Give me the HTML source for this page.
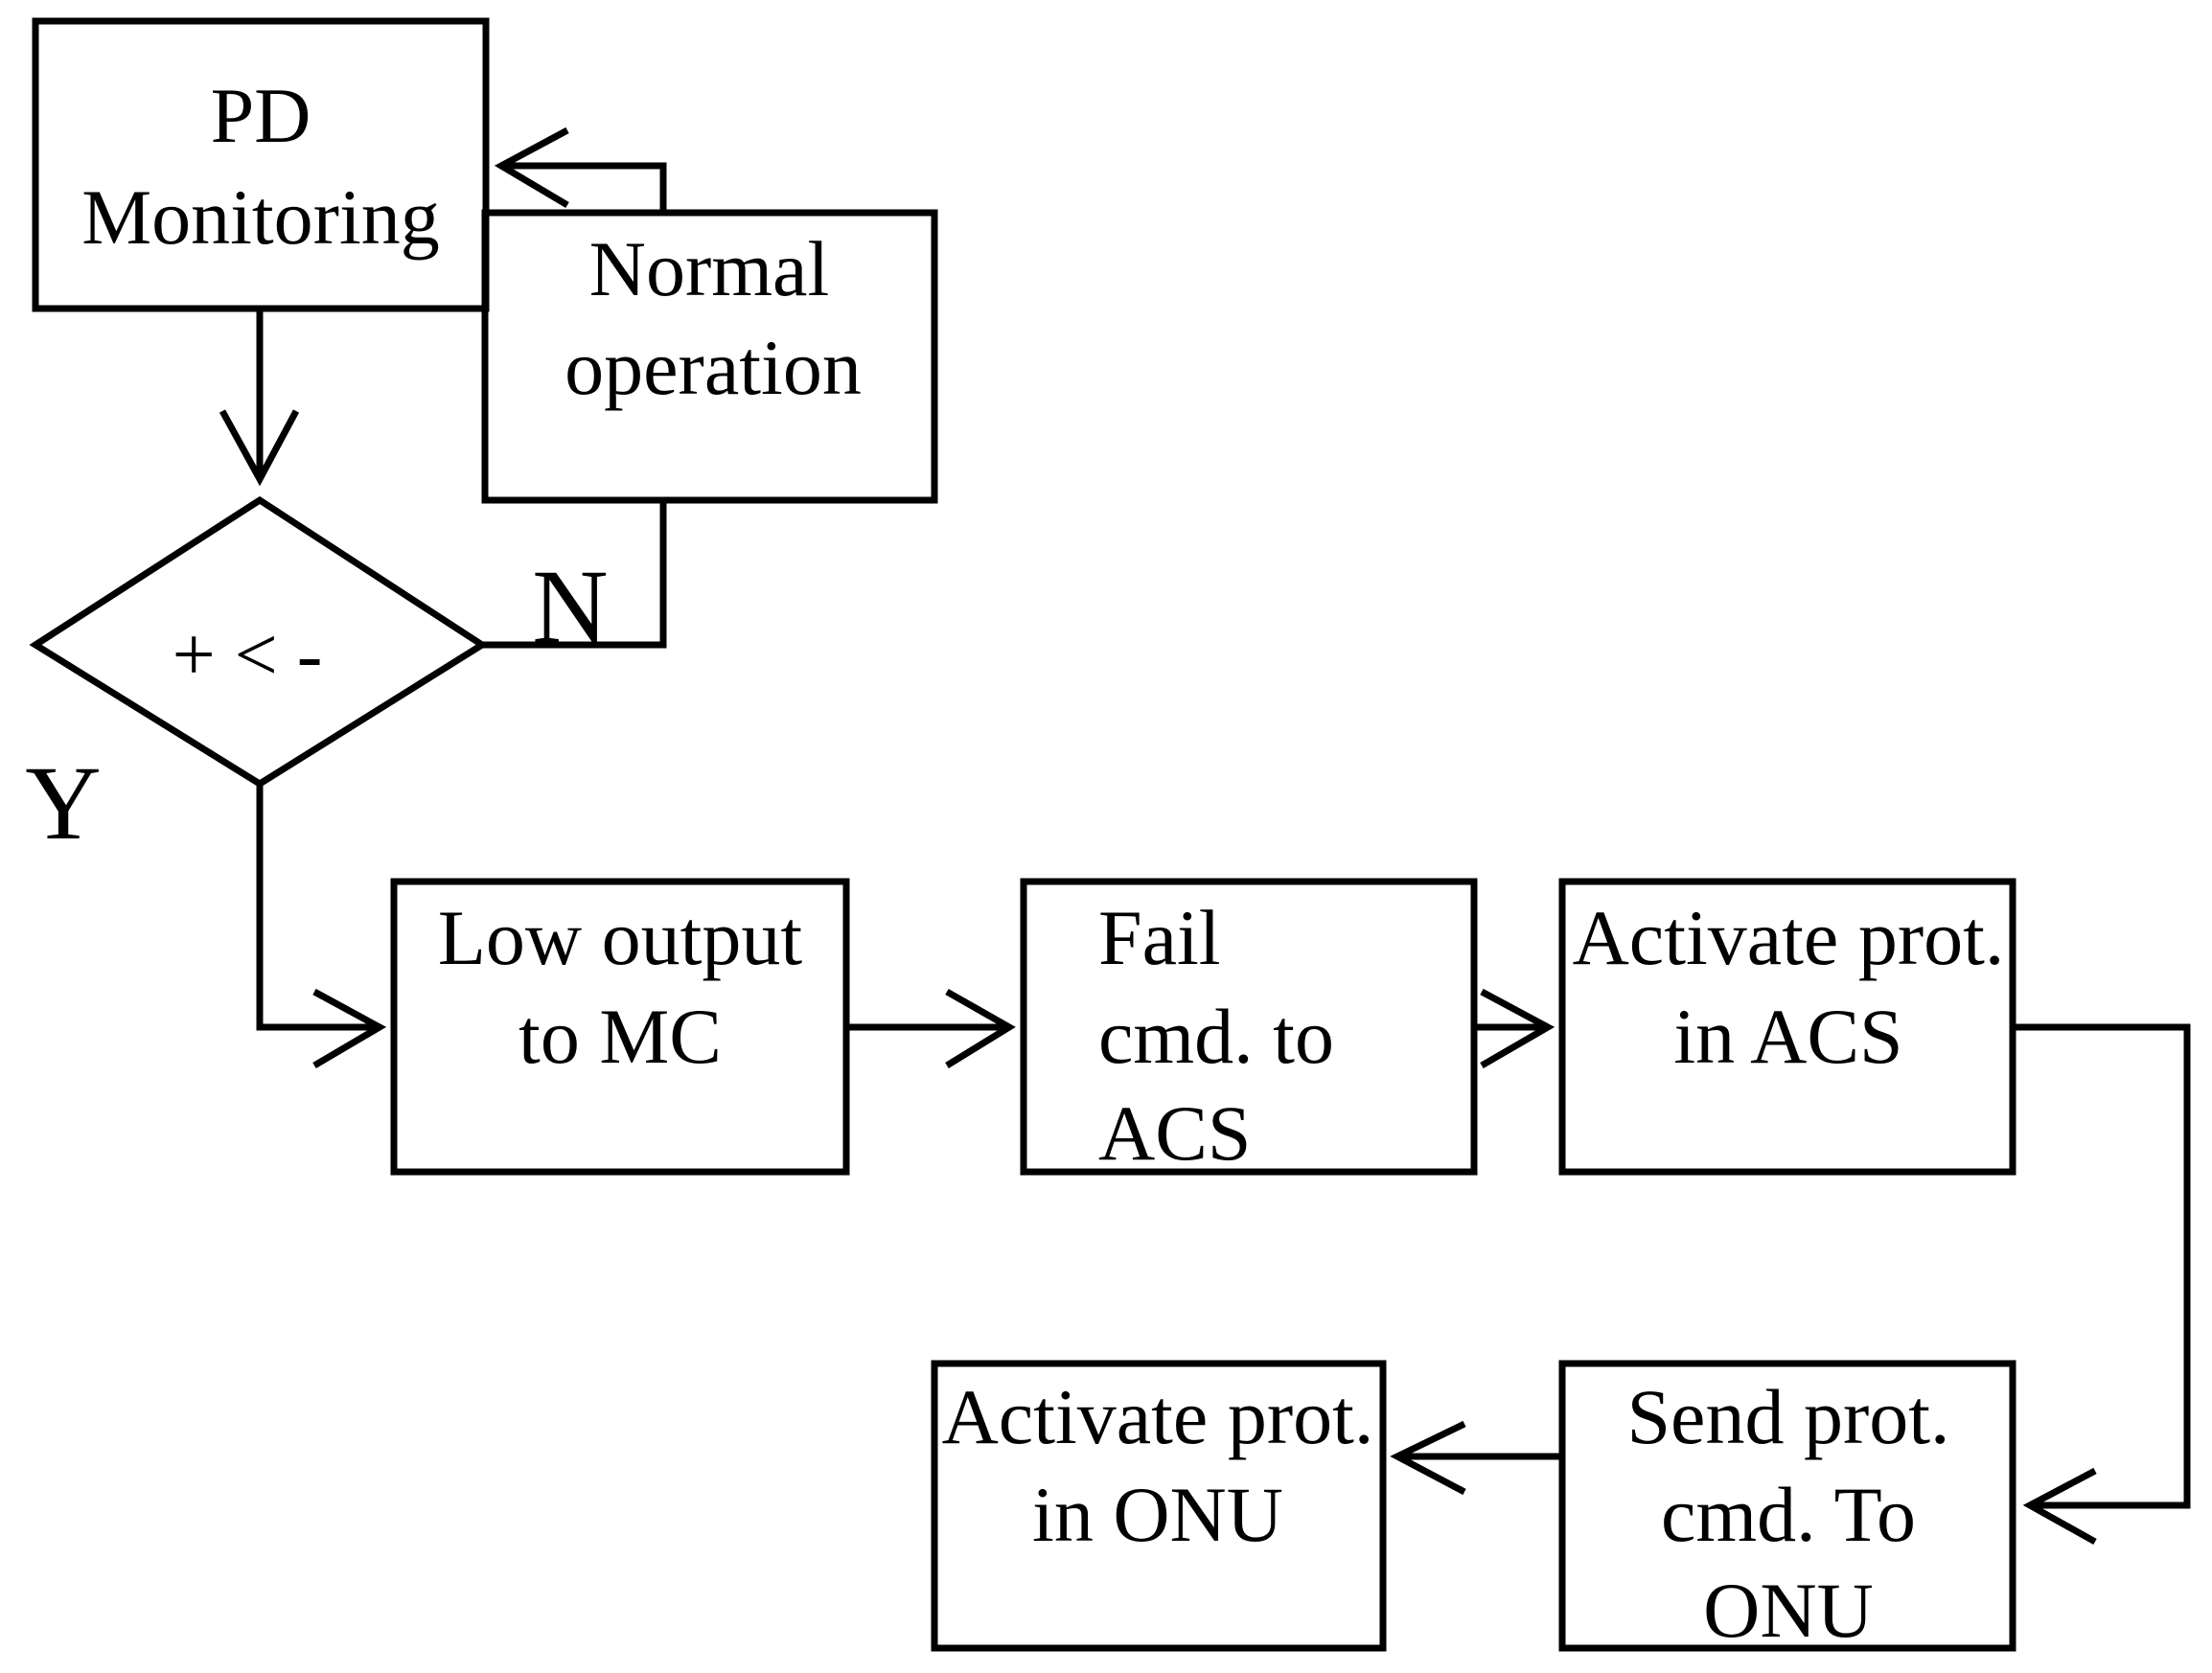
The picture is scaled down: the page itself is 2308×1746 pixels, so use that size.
<!DOCTYPE html>
<html><head><meta charset="utf-8"><style>html,body{margin:0;padding:0;background:#fff}</style></head>
<body>
<svg width="2308" height="1741" viewBox="0 0 2308 1741" xmlns="http://www.w3.org/2000/svg">
<g fill="none" stroke="#000" stroke-width="7" stroke-linejoin="miter">
<rect x="37" y="22" width="470" height="300"/>
<rect x="506" y="222" width="469" height="300"/>
<polyline points="692,222 692,173 523,173"/>
<polyline points="592,136 523,173 592,214"/>
<polyline points="692,522 692,673 503,673"/>
<polygon points="271,522 503,673 271,818 37,673"/>
<line x1="271" y1="322" x2="271" y2="500"/>
<polyline points="232,429 271,500 309,429"/>
<polyline points="271,818 271,1072 396,1072"/>
<polyline points="328,1035 396,1072 328,1112"/>
<rect x="411" y="920" width="472" height="303"/>
<rect x="1068" y="920" width="470" height="303"/>
<rect x="1630" y="920" width="470" height="303"/>
<rect x="1630" y="1423" width="470" height="297"/>
<rect x="975" y="1423" width="468" height="297"/>
<line x1="883" y1="1072" x2="1053" y2="1072"/>
<polyline points="988,1035 1053,1072 988,1112"/>
<line x1="1538" y1="1072" x2="1615" y2="1072"/>
<polyline points="1546,1035 1615,1072 1546,1112"/>
<polyline points="2100,1072 2282,1072 2282,1571 2118,1571"/>
<polyline points="2186,1535 2118,1571 2186,1609"/>
<line x1="1630" y1="1520" x2="1458" y2="1520"/>
<polyline points="1528,1486 1458,1520 1528,1557"/>
</g>
<g font-family="Liberation Serif, serif" font-size="82" fill="#000" text-anchor="middle">
<text x="272" y="148">PD</text>
<text x="272" y="254">Monitoring</text>
<text x="740" y="308">Normal</text>
<text x="744" y="411">operation</text>
<text x="258" y="710" font-size="80">+ &lt; -</text>
<text x="595" y="670" font-size="110">N</text>
<text x="66" y="875" font-size="110">Y</text>
<text x="647" y="1006">Low output</text>
<text x="647" y="1109">to MC</text>
<text x="1866" y="1006">Activate prot.</text>
<text x="1866" y="1109">in ACS</text>
<text x="1866" y="1506">Send prot.</text>
<text x="1866" y="1608">cmd. To</text>
<text x="1866" y="1708">ONU</text>
<text x="1208" y="1506">Activate prot.</text>
<text x="1208" y="1608">in ONU</text>
<g text-anchor="start">
<text x="1146" y="1006">Fail</text>
<text x="1146" y="1109">cmd. to</text>
<text x="1146" y="1210">ACS</text>
</g>
</g>
</svg>
</body></html>
